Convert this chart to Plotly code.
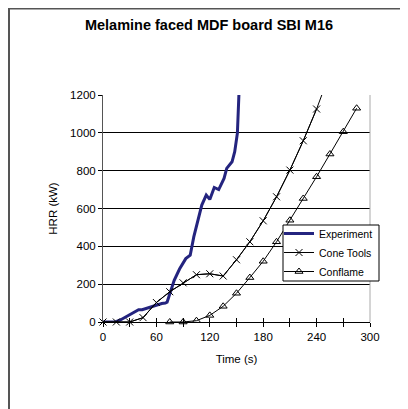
import plotly.graph_objects as go

# ---- data ----
t_exp = [0, 14, 20, 30, 40, 44, 53, 60, 66, 70, 72, 80, 86, 93, 98, 102, 107, 111, 116, 120, 125, 130, 136, 139, 145, 148, 151, 152.7]
hrr_exp = [0, 0, 12, 38, 65, 65, 80, 92, 98, 100, 105, 220, 280, 335, 353, 450, 537, 618, 671, 648, 711, 700, 759, 812, 847, 900, 998, 1200]

t_cone = [0, 15, 30, 45, 60, 75, 90, 105, 120, 135, 150, 165, 180, 195, 210, 225, 240, 255]
hrr_cone = [0, 0, 0, 23, 103, 160, 207, 250, 255, 243, 329, 424, 535, 662, 803, 958, 1126, 1316]

t_conf = [75, 90, 105, 120, 135, 150, 165, 180, 195, 210, 225, 240, 255, 270, 285]
hrr_conf = [0, 0, 7, 35, 83, 152, 235, 321, 424, 538, 653, 768, 888, 1006, 1130]

x_tickvals = [0, 30, 60, 90, 120, 150, 180, 210, 240, 270, 300]
x_ticktext = ["0", "", "60", "", "120", "", "180", "", "240", "", "300"]
y_tickvals = [0, 200, 400, 600, 800, 1000, 1200]

title = "Melamine faced MDF board SBI M16"
x_title = "Time (s)"
y_title = "HRR (kW)"

YMAX = 1200
W, H = 408, 409
OFF = 8  # page offset of the figure
L, R, T, B = 103 - OFF, W - 370 + OFF, 95 - OFF, H - 322 + OFF
PW, PH = W - L - R, H - T - B


def px_x(p):
    return (p - 103) / PW


def px_y(p):
    return (322 - p) / PH


fig = go.Figure()

fig.add_trace(go.Scatter(
    x=t_exp, y=hrr_exp, mode="lines", name="Experiment",
    line=dict(color="#24247F", width=3),
))

# Cone Tools: full line (runs past the top) + markers for in-range points
fig.add_trace(go.Scatter(
    x=t_cone, y=hrr_cone, mode="lines", showlegend=False, hoverinfo="skip",
    line=dict(color="black", width=1),
))
cx = [t for t, v in zip(t_cone, hrr_cone) if v <= YMAX]
cy = [v for v in hrr_cone if v <= YMAX]
fig.add_trace(go.Scatter(
    x=cx, y=cy, mode="lines+markers", name="Cone Tools", cliponaxis=False,
    line=dict(color="black", width=1),
    marker=dict(symbol="x-thin", size=7, line=dict(color="black", width=1), color="black"),
))

fig.add_trace(go.Scatter(
    x=t_conf, y=hrr_conf, mode="lines+markers", name="Conflame", cliponaxis=False,
    line=dict(color="black", width=1),
    marker=dict(symbol="triangle-up-open", size=7, color="black", line=dict(width=1)),
))

font_family = "Liberation Sans, Arial, sans-serif"

fig.update_layout(
    width=W, height=H,
    margin=dict(l=L, r=R, t=T, b=B, pad=0),
    paper_bgcolor="white", plot_bgcolor="white",
    font=dict(family=font_family, size=11.5, color="black"),
    title=dict(text="<b>" + title + "</b>", x=(209 - OFF) / W, xanchor="center",
               y=1 - (25 - OFF) / H, yanchor="middle",
               font=dict(size=14.5, family=font_family, color="black")),
    showlegend=True,
    legend=dict(x=px_x(279), y=px_y(219), xanchor="left", yanchor="top",
                bgcolor="rgba(0,0,0,0)", borderwidth=0,
                font=dict(size=10.5, family=font_family, color="black"),
                tracegroupgap=0, itemwidth=30),
    xaxis=dict(range=[0, 300], tickmode="array", tickvals=x_tickvals, ticktext=x_ticktext,
               ticks="outside", ticklen=4, tickcolor="black", tickwidth=1,
               showline=True, linecolor="black", linewidth=1,
               showgrid=False, zeroline=False, mirror=False,
               title=dict(text=x_title, standoff=13, font=dict(size=11.5))),
    yaxis=dict(range=[0, YMAX], tickmode="array", tickvals=y_tickvals,
               ticks="outside", ticklen=4, tickcolor="black", tickwidth=1,
               showline=True, linecolor="#555555", linewidth=1,
               showgrid=True, gridcolor="black", gridwidth=1, zeroline=False,
               title=dict(text=y_title, standoff=10, font=dict(size=11.5))),
    xaxis2=dict(range=[0, 300], overlaying="x", tickmode="array", tickvals=x_tickvals,
                ticktext=[""] * len(x_tickvals), ticks="inside", ticklen=4,
                tickcolor="black", showgrid=False, zeroline=False, showline=False,
                anchor="y", side="bottom"),
)

# dummy invisible trace to activate the second x axis (inside tick marks)
fig.add_trace(go.Scatter(x=[0], y=[0], xaxis="x2", mode="markers",
                         marker=dict(opacity=0), showlegend=False, hoverinfo="skip"))

# plot-area right border (light gray) and outer chart frame
fig.add_shape(type="line", xref="paper", yref="paper", x0=1, x1=1, y0=0, y1=1,
              line=dict(color="#AAAAAA", width=1))
fig.add_shape(type="rect", xref="paper", yref="paper",
              x0=(1 - L) / PW, x1=(W + 10 - L) / PW,
              y0=-(B + 10) / PH, y1=(H - B - 0.5) / PH,
              line=dict(color="#555555", width=2), layer="below")
# legend box
fig.add_shape(type="rect", xref="paper", yref="paper",
              x0=px_x(283), x1=px_x(379), y0=px_y(281), y1=px_y(225),
              fillcolor="white", line=dict(color="black", width=1), layer="above")

fig.write_html("out.html")
